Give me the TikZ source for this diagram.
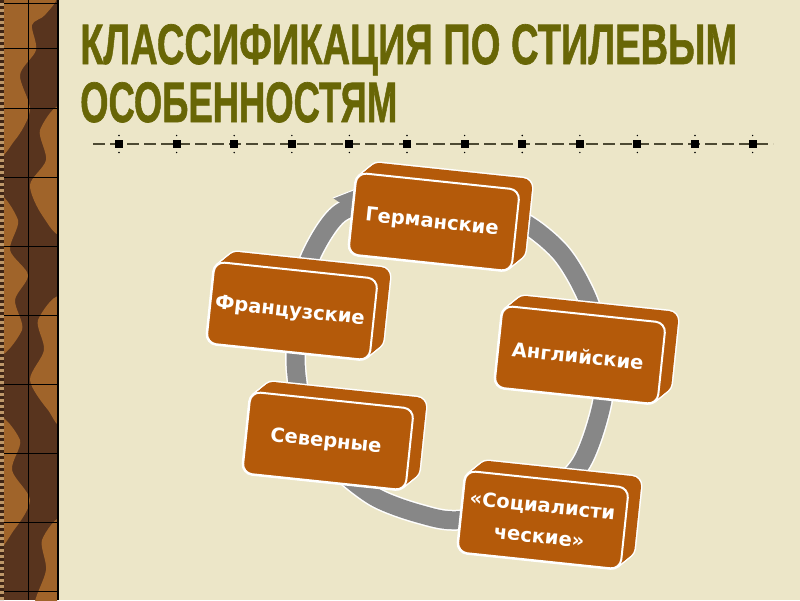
\documentclass[tikz,border=0pt]{standalone}
\usepackage{fontspec}
\newfontfamily\titlefont[FakeBold=1.2]{Liberation Sans}
\newfontfamily\boxfont{DejaVu Sans}
\usetikzlibrary{calc}
\definecolor{bg}{RGB}{236,230,200}
\definecolor{titlec}{RGB}{104,102,6}
\definecolor{boxc}{RGB}{180,90,10}
\definecolor{ringc}{RGB}{135,135,135}
\definecolor{stripd}{RGB}{88,52,30}
\definecolor{stripl}{RGB}{160,100,42}
\definecolor{dashc}{RGB}{77,74,51}
\tikzset{
  boxtext/.style={text=white, font=\boxfont\bfseries\fontsize{19.5}{31}\selectfont, align=center, transform shape, inner sep=0pt},
  titletext/.style={text=titlec, font=\titlefont\bfseries\fontsize{57}{60}\selectfont, inner sep=0pt, anchor=base west},
  ringband/.style={line width=18pt, draw=ringc},
  ringedge/.style={line width=21pt, draw=white},
  leaf/.style={fill=stripl},
}
\newcommand\slab[4]{%
  \begin{scope}[shift={(#2,#3)},rotate=-6]
    \foreach \t in {0,1,...,12}{\filldraw[white,line width=3pt,rounded corners=10pt] (-82+\t,-41-\t) rectangle (82+\t,41-\t);}
    \foreach \t in {0,1,...,12}{\fill[boxc,rounded corners=10pt] (-82+\t,-41-\t) rectangle (82+\t,41-\t);}
    \filldraw[fill=boxc,draw=white,line width=2pt,rounded corners=10pt] (-82,-41) rectangle (82,41);
    \node[boxtext] (#1) at (-2,1) {#4};
  \end{scope}}
\begin{document}
\begin{tikzpicture}[x=1pt,y=-1pt]
\useasboundingbox (0,0) rectangle (800,600);
\fill[bg] (0,0) rectangle (800,600);
% left strip
\begin{scope}
  \clip (0,0) rectangle (57,600);
  \fill[stripd] (0,0) rectangle (57,600);
  \fill[leaf] plot[smooth cycle] coordinates {(-5,-5) (55,-5) (45,15) (32,25) (36,50) (20,75) (30,110) (15,140) (-5,150)};
  \fill[leaf] plot[smooth cycle] coordinates {(62,110) (40,130) (46,160) (30,185) (42,215) (62,230)};
  \fill[leaf] plot[smooth cycle] coordinates {(-5,200) (18,220) (10,250) (28,275) (15,300) (22,330) (-5,350)};
  \fill[leaf] plot[smooth cycle] coordinates {(62,300) (38,320) (44,350) (30,380) (48,410) (62,420)};
  \fill[leaf] plot[smooth cycle] coordinates {(-5,420) (20,440) (12,470) (30,500) (14,530) (-5,545)};
  \fill[leaf] plot[smooth cycle] coordinates {(62,520) (42,540) (46,570) (35,605) (62,605)};
  \draw[black,line width=0.8pt] (28,0) -- (28,600);
  \foreach \yy in {3,48,108,177,246,315,384,453,522,591}{\draw[black,line width=0.8pt] (0,\yy) -- (57,\yy);}
\end{scope}
\draw[stripl!60!bg,line width=4pt] (2,0) -- (2,600);
\draw[stripd!70!black,line width=4pt,dash pattern=on 3pt off 3pt] (2,0) -- (2,600);
\draw[black,line width=2pt] (58,0) -- (58,600);
% title
\node[titletext] (title1) at (80,64) {\resizebox{657pt}{\height}{КЛАССИФИКАЦИЯ ПО СТИЛЕВЫМ}};
\node[titletext] (title2) at (80,122) {\resizebox{317pt}{\height}{ОСОБЕННОСТЯМ}};
% dashed rule
\coordinate (dl) at (93,144);
\coordinate (dr) at (773,144);
\draw[dashc,line width=2.5pt,dash pattern=on 12pt off 5pt] (dl) -- (dr);
\foreach \k in {0,...,11}{
  \fill[black] ({119+57.6*\k-4},140) rectangle ++(8,8);
  \fill[black] ({119+57.6*\k},135.5) circle (0.8);
  \fill[black] ({119+57.6*\k},152.5) circle (0.8);
}
% ring
\def\ringpts{(449,204) (515,218) (560,252) (588,300) (602,355) (602,403) (580,465) (535,503) (460,520) (420,514) (375,497) (335,465) (307,425) (296,370) (298,310) (310,258) (340,213) (390,200)}
\draw[ringedge] plot[smooth cycle] coordinates {\ringpts};
\draw[ringband] plot[smooth cycle] coordinates {\ringpts};
\fill[ringc] (333,198) -- (356,189) -- (357,214) -- cycle;
\draw[white,line width=1pt] (333,198) -- (356,189) -- (357,214);
% boxes
\slab{ger}{434}{222}{Германские}
\slab{fra}{292}{311}{Французские}
\slab{eng}{580}{355}{Английские}
\slab{sev}{328}{441}{Северные}
\slab{soc}{543}{520}{«Социалисти\\ческие»}
\end{tikzpicture}
\end{document}
